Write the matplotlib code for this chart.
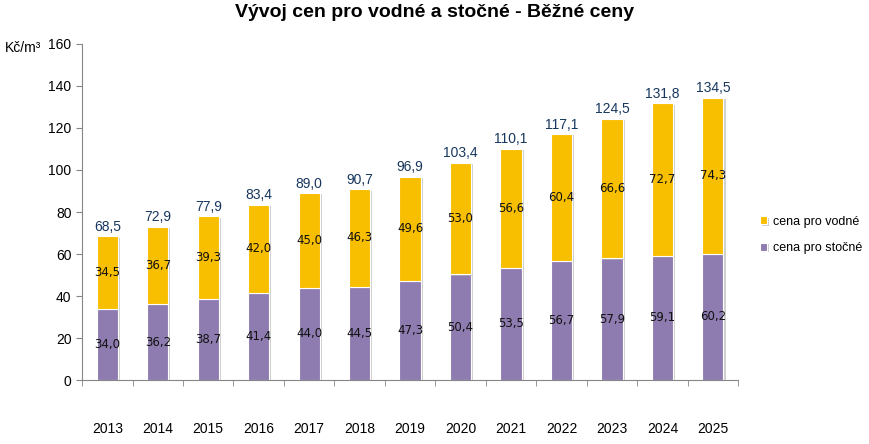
import numpy as np
import matplotlib.pyplot as plt
import matplotlib.patheffects as pe

plt.rcParams['font.family'] = ['Liberation Sans', 'DejaVu Sans']

years = ['2013', '2014', '2015', '2016', '2017', '2018', '2019',
         '2020', '2021', '2022', '2023', '2024', '2025']
stocne = [34.0, 36.2, 38.7, 41.4, 44.0, 44.5, 47.3, 50.4, 53.5, 56.7, 57.9, 59.1, 60.2]
vodne = [34.5, 36.7, 39.3, 42.0, 45.0, 46.3, 49.6, 53.0, 56.6, 60.4, 66.6, 72.7, 74.3]
totals = [68.5, 72.9, 77.9, 83.4, 89.0, 90.7, 96.9, 103.4, 110.1, 117.1, 124.5, 131.8, 134.5]

purple = '#8E7CB0'
yellow = '#F8BE00'

fig = plt.figure(figsize=(8.69, 4.44), dpi=100)
ax = fig.add_axes([0.0944, 0.144, 0.755, 0.757])

x = np.arange(len(years))
shadow = [pe.SimplePatchShadow(offset=(1.5, -1), shadow_rgbFace='#b0b0b0', alpha=0.6), pe.Normal()]
ax.bar(x, stocne, width=0.42, color=purple, edgecolor='white', linewidth=0.8,
       label='cena pro stočné', path_effects=shadow)
ax.bar(x, vodne, width=0.42, bottom=stocne, color=yellow, edgecolor='white', linewidth=0.8,
       label='cena pro vodné', path_effects=shadow)

fmt = lambda v: f'{v:.1f}'.replace('.', ',')
for i in range(len(years)):
    ax.text(x[i], stocne[i] / 2, fmt(stocne[i]), ha='center', va='center',
            fontsize=8.5, family='DejaVu Sans', color='#111111')
    ax.text(x[i], stocne[i] + vodne[i] / 2, fmt(vodne[i]), ha='center', va='center',
            fontsize=8.5, family='DejaVu Sans', color='#111111')
    ax.text(x[i], totals[i] + 1.2, fmt(totals[i]), ha='center', va='bottom',
            fontsize=10, color='#17375E')

ax.set_xlim(-0.5, len(years) - 0.5)
ax.set_ylim(0, 160)
ax.set_yticks(range(0, 161, 20))
ax.set_xticks(x)
ax.set_xticklabels(years, fontsize=10)
ax.set_xticks(np.arange(-0.5, len(years), 1), minor=True)
ax.tick_params(axis='x', which='major', length=0, pad=30)
ax.tick_params(axis='x', which='minor', length=4, color='#868686')
ax.tick_params(axis='y', length=4, color='#868686', labelsize=10)
for s in ['top', 'right']:
    ax.spines[s].set_visible(False)
for s in ['left', 'bottom']:
    ax.spines[s].set_color('#868686')

fig.text(0.006, 0.893, 'Kč/m³', fontsize=10, ha='left', va='center')
fig.suptitle('Vývoj cen pro vodné a stočné - Běžné ceny', fontsize=14, fontweight='bold', y=0.99)

h, l = ax.get_legend_handles_labels()
fig.legend(h[::-1], l[::-1], loc='center left', bbox_to_anchor=(0.874, 0.471), frameon=False,
           fontsize=9, handlelength=0.6, handleheight=0.6, labelspacing=1.15, handletextpad=0.5,
           borderpad=0, borderaxespad=0)

fig.savefig('out.png', dpi=100)
